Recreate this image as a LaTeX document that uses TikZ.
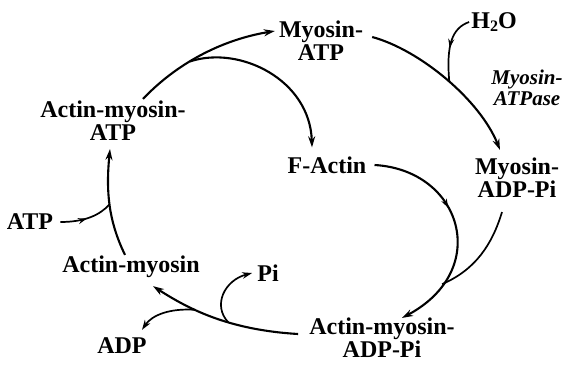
\documentclass[tikz,border=0pt]{standalone}
\usepackage{fontspec}
\setmainfont{Liberation Serif}
\usetikzlibrary{arrows.meta,decorations.markings}
\tikzset{
  lbl/.style={font=\fontsize{24}{23}\selectfont\bfseries, align=center, inner sep=0pt},
  enz/.style={font=\fontsize{21}{21}\selectfont\bfseries\itshape, align=center, inner sep=0pt},
  mainarr/.style={line width=2.1pt, -{Stealth[length=11pt,width=7pt]}},
  brarr/.style={line width=1.7pt, -{Stealth[length=10pt,width=6.5pt]}},
  brline/.style={line width=1.7pt},
  midarrow/.style={postaction={decorate}, decoration={markings, mark=at position #1 with {\arrow{Stealth[length=9pt,width=6pt]}}}}
}
\begin{document}
\begin{tikzpicture}[x=1pt,y=-1pt]
\useasboundingbox[fill=white] (0,0) rectangle (569,364);
% nodes
\node[lbl] (matp) at (321,41) {Myosin-\\ATP};
\node[lbl] (h2o) at (494,22) {H\raisebox{-0.35ex}{\fontsize{16}{16}\selectfont 2}O};
\node[enz] (atpase) at (527,88) {Myosin-\\ATPase};
\node[lbl] (factin) at (327,165) {F-Actin};
\node[lbl] (madp) at (517,178) {Myosin-\\ADP-Pi};
\node[lbl] (amatp) at (113,121) {Actin-myosin-\\ATP};
\node[lbl] (atp) at (30,222) {ATP};
\node[lbl] (am) at (131,267) {Actin-myosin};
\node[lbl] (pi) at (268,273) {Pi};
\node[lbl] (adp) at (122,346) {ADP};
\node[lbl] (amadp) at (382,338) {Actin-myosin-\\ADP-Pi};
% Actin-myosin-ATP -> Myosin-ATP, branch to F-Actin
\draw[mainarr] ([shift={(30,-2)}]amatp.north) .. controls (175,65) and (220,40) .. ([shift={(-4,-10)}]matp.west) coordinate[pos=0.42] (j1);
\draw[mainarr] (j1) .. controls (240,45) and (310,80) .. ([shift={(-15,-9)}]factin.north);
% Myosin-ATP -> Myosin-ADP-Pi with H2O
\draw[mainarr] ([shift={(9,-4)}]matp.east) .. controls (420,50) and (480,100) .. ([shift={(-17,-8)}]madp.north) coordinate[pos=0.52] (j2);
\draw[brline, midarrow=0.5] ([xshift=-2pt]h2o.west) .. controls (452,28) and (446,45) .. (j2);
% F-Actin -> Actin-myosin-ADP-Pi with Myosin-ADP-Pi
\draw[mainarr, midarrow=0.4] ([xshift=8pt]factin.east) .. controls (462,170) and (492,270) .. ([shift={(20,0)}]amadp.north) coordinate[pos=0.8] (j3);
\draw[brline] ([shift={(-15,14)}]madp.south) .. controls (492,245) and (475,270) .. (j3);
% Actin-myosin-ADP-Pi -> Actin-myosin, with Pi and ADP
\draw[mainarr] ([shift={(-11,-4)}]amadp.west) .. controls (230,330) and (190,310) .. ([shift={(22,8)}]am.south) coordinate[pos=0.4] (j4) coordinate[pos=0.64] (j5);
\draw[brarr] (j4) .. controls (212,305) and (225,280) .. ([xshift=-5pt]pi.west);
\draw[brarr] (j5) .. controls (170,308) and (152,315) .. ([shift={(20,-8)}]adp.north);
% Actin-myosin -> Actin-myosin-ATP, with ATP
\draw[mainarr] ([shift={(-6,-1)}]am.north) .. controls (108,220) and (106,190) .. ([shift={(-3,8)}]amatp.south) coordinate[pos=0.5] (j6);
\draw[brline, midarrow=0.5] ([xshift=7pt]atp.east) .. controls (85,222) and (100,215) .. (j6);
\end{tikzpicture}
\end{document}
